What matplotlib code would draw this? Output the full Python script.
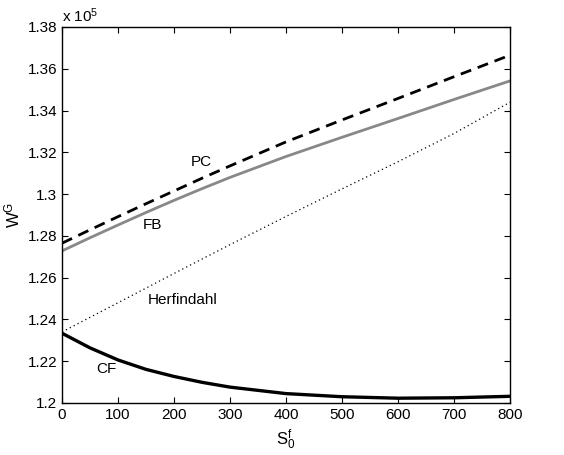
import numpy as np
import matplotlib
matplotlib.use('Agg')
import matplotlib.pyplot as plt
from matplotlib.ticker import FuncFormatter, MultipleLocator

plt.rcParams['font.family'] = ['Liberation Sans', 'DejaVu Sans']

# values in units of 1e5
s0 = [0, 50, 100, 150, 200, 250, 300, 400, 500, 600, 700, 800]
pc = [1.2765, 1.2829, 1.2892, 1.2954, 1.3015, 1.3076, 1.3135, 1.3250, 1.3355, 1.3458, 1.3562, 1.3665]
fb = [1.2728, 1.2791, 1.2852, 1.2912, 1.2970, 1.3026, 1.3080, 1.3180, 1.3272, 1.3362, 1.3453, 1.3542]
herf = [1.2340, 1.2410, 1.2480, 1.2550, 1.2620, 1.2689, 1.2758, 1.2893, 1.3025, 1.3155, 1.3290, 1.3440]
cf = [1.2334, 1.2264, 1.2206, 1.2161, 1.2127, 1.2099, 1.2076, 1.2045, 1.2030, 1.2023, 1.2025, 1.2032]

fig = plt.figure(figsize=(5.64, 4.55), dpi=100)
ax = fig.add_axes([62/564, 52/455, 448/564, 376/455])

ax.plot(s0, pc, color='black', lw=2.0, ls=(0, (4, 2.5)))
ax.plot(s0, fb, color='#888888', lw=2.0)
ax.plot(s0, herf, color='black', lw=0.9, ls=(0, (1, 2.5)))
ax.plot(s0, cf, color='black', lw=2.4)

ax.text(248, 1.3154, 'PC', ha='center', va='center', fontsize=11)
ax.text(161, 1.2852, 'FB', ha='center', va='center', fontsize=11)
ax.text(216, 1.2493, 'Herfindahl', ha='center', va='center', fontsize=11)
ax.text(80, 1.2163, 'CF', ha='center', va='center', fontsize=11)

ax.set_xlim(0, 800)
ax.set_ylim(1.2, 1.38)
ax.xaxis.set_major_locator(MultipleLocator(100))
ax.yaxis.set_major_locator(MultipleLocator(0.02))
ax.yaxis.set_major_formatter(FuncFormatter(lambda v, p: '%g' % round(v, 4)))
ax.tick_params(direction='in', top=True, right=True, labelsize=11, length=4, width=0.8)
for sp in ax.spines.values():
    sp.set_linewidth(1.0)

ax.set_xlabel('$\\mathregular{S_0^f}$', fontsize=12)
ax.set_ylabel('$\\mathregular{W^G}$', fontsize=12)
ax.text(0.0, 1.005, 'x 10$\\mathregular{^5}$', transform=ax.transAxes, ha='left', va='bottom', fontsize=11)

fig.savefig('out.png', dpi=100)
